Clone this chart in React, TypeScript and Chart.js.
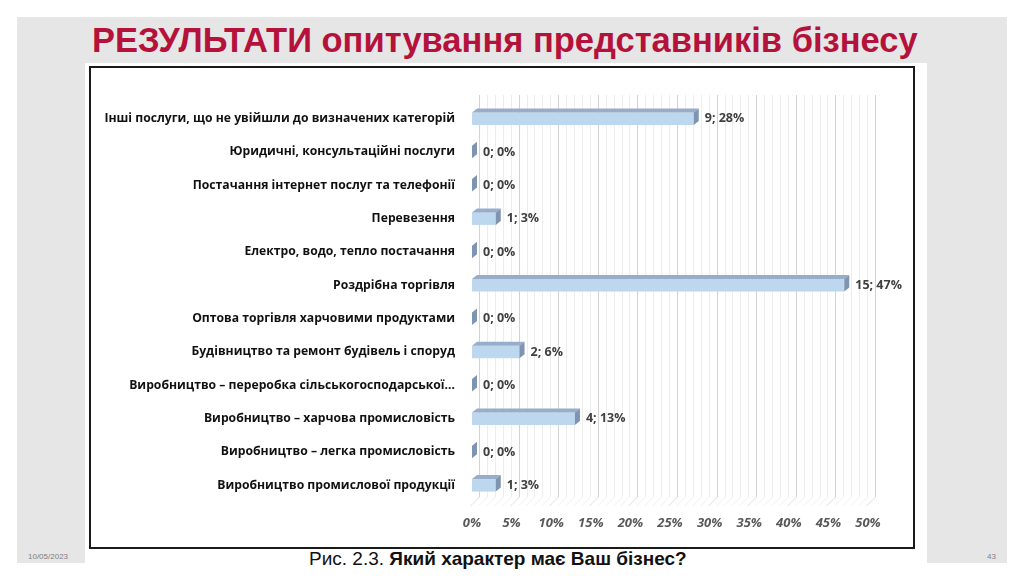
import React, { useEffect, useRef } from 'react';
import { Chart, registerables } from 'chart.js';

Chart.register(...registerables);

// --- chart data ---
const categories = [
  'Інші послуги, що не увійшли до визначених категорій',
  'Юридичні, консультаційні послуги',
  'Постачання інтернет послуг та телефонії',
  'Перевезення',
  'Електро, водо, тепло постачання',
  'Роздрібна торгівля',
  'Оптова торгівля харчовими продуктами',
  'Будівництво та ремонт будівель і споруд',
  'Виробництво – переробка сільськогосподарської…',
  'Виробництво – харчова промисловість',
  'Виробництво – легка промисловість',
  'Виробництво промислової продукції',
];
const counts = [9, 0, 0, 1, 0, 15, 0, 2, 0, 4, 0, 1];
const shares = [28, 0, 0, 3, 0, 47, 0, 6, 0, 13, 0, 3];
const tickValues = [0, 5, 10, 15, 20, 25, 30, 35, 40, 45, 50];

// 3D look
const DX = 5;
const DY = 4;
const WALL = 7;
const FONT = '"Open Sans"';

const barFaces = {
  id: 'barFaces',
  beforeDatasetsDraw(chart: any) {
    const { ctx, chartArea, scales } = chart;
    const x = scales.x;
    const topY = chartArea.top - WALL;
    const wallBottom = chartArea.bottom - 5;
    ctx.save();
    ctx.lineWidth = 1;
    for (let v = 0; v <= 50; v++) {
      const major = v % 5 === 0;
      const xb = Math.round(x.getPixelForValue(v) + WALL) + 0.5;
      ctx.strokeStyle = major ? '#d3d3d3' : '#ededed';
      ctx.beginPath();
      ctx.moveTo(xb, topY);
      ctx.lineTo(xb, wallBottom);
      ctx.stroke();
      ctx.strokeStyle = major ? '#dedede' : '#efefef';
      ctx.beginPath();
      ctx.moveTo(xb, wallBottom);
      ctx.lineTo(xb - 9, wallBottom + 9);
      ctx.stroke();
    }
    ctx.restore();
  },
  afterDatasetsDraw(chart: any) {
    const { ctx } = chart;
    const meta = chart.getDatasetMeta(0);
    ctx.save();
    meta.data.forEach((el: any, i: number) => {
      const h = el.height;
      const top = el.y - h / 2;
      const bottom = el.y + h / 2;
      const base = el.base;
      const end = el.x;
      // top face
      if (end - base > 0) {
        ctx.fillStyle = '#98adc9';
        ctx.beginPath();
        ctx.moveTo(base, top);
        ctx.lineTo(end, top);
        ctx.lineTo(end + DX, top - DY);
        ctx.lineTo(base + DX, top - DY);
        ctx.closePath();
        ctx.fill();
      }
      // side face
      ctx.fillStyle = '#7f94b0';
      ctx.beginPath();
      ctx.moveTo(end, top);
      ctx.lineTo(end + DX, top - DY);
      ctx.lineTo(end + DX, bottom - DY);
      ctx.lineTo(end, bottom);
      ctx.closePath();
      ctx.fill();
      // value label
      ctx.fillStyle = '#404040';
      ctx.font = `bold 12.5px ${FONT}`;
      ctx.textAlign = 'left';
      ctx.textBaseline = 'middle';
      ctx.fillText(`${counts[i]}; ${shares[i]}%`, end + DX + 6, el.y);
    });
    ctx.restore();
  },
};

export default function App() {
  const canvasRef = useRef<HTMLCanvasElement>(null);

  useEffect(() => {
    const ctx = canvasRef.current?.getContext('2d');
    if (!ctx) return;
    const chart = new Chart(ctx, {
      type: 'bar',
      data: {
        labels: categories,
        datasets: [{
          data: shares,
          backgroundColor: '#bdd7ee',
          borderWidth: 0,
          barPercentage: 0.75,
          categoryPercentage: 0.5,
        }],
      },
      options: {
        indexAxis: 'y',
        animation: false,
        responsive: false,
        events: [],
        layout: { padding: { left: 0, top: 102, right: 156, bottom: 49 } },
        plugins: { legend: { display: false }, tooltip: { enabled: false } },
        scales: {
          x: {
            min: 0,
            max: 50,
            afterBuildTicks: (scale: any) => {
              scale.ticks = tickValues.map((v) => ({ value: v }));
            },
            afterFit: (scale: any) => { scale.height = 30; },
            grid: { display: false, drawTicks: false },
            border: { display: false },
            ticks: {
              padding: 13,
              color: '#595959',
              font: { family: FONT, size: 13, weight: 'bold', style: 'italic' },
              callback: (v: any) => `${v}%`,
            },
          },
          y: {
            afterFit: (scale: any) => { scale.width = 472; },
            grid: { display: false, drawTicks: false },
            border: { display: false },
            ticks: {
              padding: 17,
              color: '#111111',
              font: { family: FONT, size: 12.2, weight: 'bold' },
            },
          },
        },
      },
      plugins: [barFaces],
    });
    return () => chart.destroy();
  }, []);

  return (
    <div style={{ position: 'relative', width: 1024, height: 581, background: '#fff', overflow: 'hidden', fontFamily: '"Liberation Sans", Arial, sans-serif' }}>
      <style>{'body{margin:0}'}</style>
      <div style={{ position: 'absolute', left: 17, top: 17, width: 990, height: 546, background: '#e7e6e6' }} />
      <div style={{ position: 'absolute', left: 92, top: 23, fontSize: 34.5, lineHeight: 1, fontWeight: 'bold', color: '#b5123b', whiteSpace: 'nowrap' }}>
        РЕЗУЛЬТАТИ опитування представників бізнесу
      </div>
      <div style={{ position: 'absolute', left: 85, top: 63, width: 842, height: 518, background: '#fff' }} />
      <div style={{ position: 'absolute', left: 89, top: 66, width: 822, height: 479, border: '2px solid #1a1a1a' }} />
      <div style={{ position: 'absolute', left: 309, top: 549, fontSize: 19, lineHeight: 1, color: '#111', whiteSpace: 'nowrap' }}>
        Рис. 2.3. <b>Який характер має Ваш бізнес?</b>
      </div>
      <div style={{ position: 'absolute', left: 28, top: 552, fontSize: 8, color: '#7f7f7f' }}>10/05/2023</div>
      <div style={{ position: 'absolute', left: 987, top: 552, fontSize: 8, color: '#7f7f7f' }}>43</div>
      <canvas ref={canvasRef} width={1024} height={581} style={{ position: 'absolute', left: 0, top: 0 }} />
    </div>
  );
}
